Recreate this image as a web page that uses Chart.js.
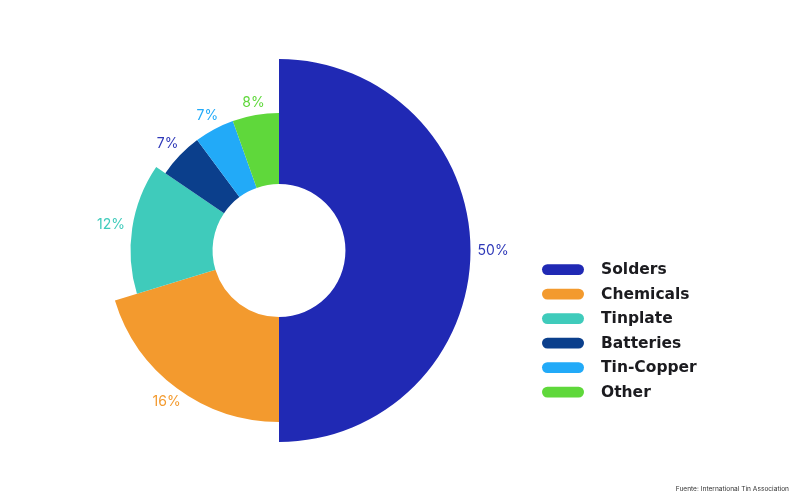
<!DOCTYPE html>
<html>
<head>
<meta charset="utf-8">
<title>Tin use by sector</title>
<script src="https://cdn.jsdelivr.net/npm/chart.js@4.4.1/dist/chart.umd.min.js"></script>
<style>
    html, body { margin: 0; padding: 0; background: #ffffff; }
    #wrap { width: 800px; height: 501px; position: relative; }
</style>
</head>
<body>
<div id="wrap"><canvas id="tinChart" width="800" height="501"></canvas></div>
<script>
// Sectors and their shares (arc sizes as drawn in the picture)
const sectors = ['Solders', 'Chemicals', 'Tinplate', 'Batteries', 'Tin-Copper', 'Other'];
const shares = [50, 20.3, 14.2, 5.35, 4.7, 5.45];
// Percent labels printed next to each slice
const pctLabels = ['50%', '16%', '12%', '7%', '7%', '8%'];

const sliceColors = ['#2029b4', '#f39a2e', '#3fcbbb', '#0b3f8c', '#22aaf8', '#5fd83b'];
const labelColors = ['#2f39b8', '#f39a2e', '#3fcbbb', '#2f39b8', '#22aaf8', '#5fd83b'];
// ring depth of each slice relative to the largest one
const ringDepth = [1, 0.84, 0.656, 0.568, 0.568, 0.568];

/**
 * Plugin: give every slice its own outer radius, then print the percent labels
 */
const ringDepthPlugin = {
    id: 'ringDepth',
    beforeDatasetsDraw(chart) {
        const meta = chart.getDatasetMeta(0);
        meta.data.forEach(function(arc, i) {
            if (arc._fullOuter === undefined) {
                arc._fullOuter = arc.outerRadius;
            }
            const inner = arc.innerRadius;
            arc.outerRadius = inner + (arc._fullOuter - inner) * ringDepth[i];
        });
    },
    afterDatasetsDraw(chart) {
        const ctx = chart.ctx;
        const meta = chart.getDatasetMeta(0);
        ctx.save();
        ctx.font = '400 14px Inter, "Open Sans", sans-serif';
        ctx.textAlign = 'center';
        ctx.textBaseline = 'middle';
        meta.data.forEach(function(arc, i) {
            const p = arc.getProps(['x', 'y', 'startAngle', 'endAngle', 'outerRadius']);
            const mid = (p.startAngle + p.endAngle) / 2;
            const dx = Math.cos(mid);
            const dy = Math.sin(mid);
            const w = ctx.measureText(pctLabels[i]).width;
            // push further out where the text runs sideways
            const r = p.outerRadius + 11 + Math.abs(dx) * w * 0.375;
            ctx.fillStyle = labelColors[i];
            ctx.fillText(pctLabels[i], p.x + dx * r, p.y + dy * r);
        });
        ctx.restore();
    }
};

/**
 * Plugin: legend with pill swatches and the source note
 */
const sideLegendPlugin = {
    id: 'sideLegend',
    afterDraw(chart) {
        const ctx = chart.ctx;
        ctx.save();
        const top = 269.6;
        const step = 24.5;
        sectors.forEach(function(name, i) {
            const y = top + i * step;
            ctx.fillStyle = sliceColors[i];
            ctx.beginPath();
            ctx.roundRect(542, y - 5.4, 42, 10.8, 5.4);
            ctx.fill();
            ctx.fillStyle = '#1b1b1f';
            ctx.font = '700 15.5px "DejaVu Sans", sans-serif';
            ctx.textAlign = 'left';
            ctx.textBaseline = 'middle';
            ctx.fillText(name, 601, y + 0.5);
        });
        ctx.fillStyle = '#333333';
        ctx.font = '400 6.6px Inter, "Open Sans", sans-serif';
        ctx.textAlign = 'right';
        ctx.textBaseline = 'middle';
        ctx.fillText('Fuente: International Tin Association', 789, 489);
        ctx.restore();
    }
};

const ctx = document.getElementById('tinChart').getContext('2d');

const tinChart = new Chart(ctx, {
    type: 'doughnut',
    data: {
        labels: sectors,
        datasets: [{
            data: shares,
            backgroundColor: sliceColors,
            borderWidth: 0,
            hoverOffset: 0
        }]
    },
    options: {
        responsive: false,
        animation: false,
        cutout: '34.7%',
        layout: {
            padding: { left: 87.5, top: 59, right: 329.5, bottom: 59 }
        },
        plugins: {
            legend: { display: false },
            tooltip: { enabled: false }
        }
    },
    plugins: [ringDepthPlugin, sideLegendPlugin]
});
</script>
</body>
</html>
